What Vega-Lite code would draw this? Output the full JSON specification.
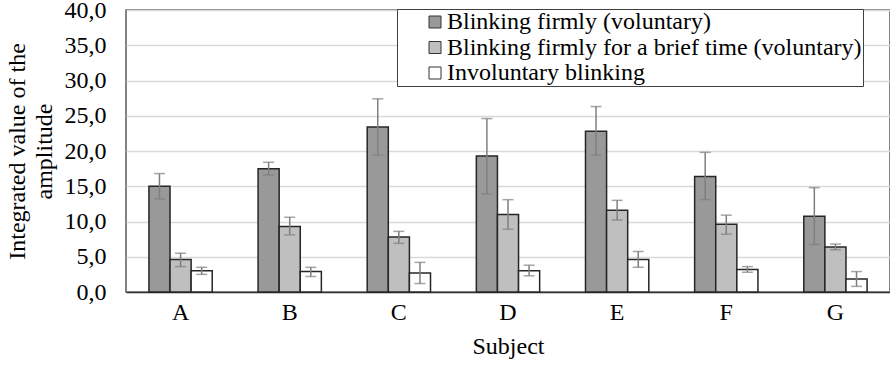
{
  "$schema": "https://vega.github.io/schema/vega-lite/v6.json",
  "autosize": {"type": "none"},
  "width": 764,
  "height": 282,
  "padding": {"left": 126, "top": 10, "right": 0, "bottom": 74},
  "background": "white",
  "config": {
    "font": "Liberation Serif",
    "view": {"stroke": "#595959", "strokeWidth": 1.5},
    "axis": {"labelFont": "Liberation Serif", "titleFont": "Liberation Serif", "labelColor": "#000", "titleColor": "#000", "titleFontWeight": "normal", "labelOverlap": false},
    "legend": {"labelFont": "Liberation Serif", "titleFont": "Liberation Serif"}
  },
  "data": {
    "values": [
      {"subject": "A", "series": "Blinking firmly (voluntary)", "value": 15.0, "lo": 13.2, "hi": 16.8},
      {"subject": "A", "series": "Blinking firmly for a brief time (voluntary)", "value": 4.6, "lo": 3.6, "hi": 5.5},
      {"subject": "A", "series": "Involuntary blinking", "value": 3.0, "lo": 2.5, "hi": 3.5},
      {"subject": "B", "series": "Blinking firmly (voluntary)", "value": 17.5, "lo": 16.6, "hi": 18.4},
      {"subject": "B", "series": "Blinking firmly for a brief time (voluntary)", "value": 9.3, "lo": 8.1, "hi": 10.6},
      {"subject": "B", "series": "Involuntary blinking", "value": 2.9, "lo": 2.2, "hi": 3.5},
      {"subject": "C", "series": "Blinking firmly (voluntary)", "value": 23.4, "lo": 19.4, "hi": 27.4},
      {"subject": "C", "series": "Blinking firmly for a brief time (voluntary)", "value": 7.8, "lo": 6.9, "hi": 8.6},
      {"subject": "C", "series": "Involuntary blinking", "value": 2.7, "lo": 1.2, "hi": 4.2},
      {"subject": "D", "series": "Blinking firmly (voluntary)", "value": 19.3, "lo": 13.9, "hi": 24.6},
      {"subject": "D", "series": "Blinking firmly for a brief time (voluntary)", "value": 11.0, "lo": 8.9, "hi": 13.1},
      {"subject": "D", "series": "Involuntary blinking", "value": 3.0, "lo": 2.3, "hi": 3.8},
      {"subject": "E", "series": "Blinking firmly (voluntary)", "value": 22.8, "lo": 19.4, "hi": 26.3},
      {"subject": "E", "series": "Blinking firmly for a brief time (voluntary)", "value": 11.6, "lo": 10.2, "hi": 13.0},
      {"subject": "E", "series": "Involuntary blinking", "value": 4.6, "lo": 3.5, "hi": 5.75},
      {"subject": "F", "series": "Blinking firmly (voluntary)", "value": 16.4, "lo": 13.1, "hi": 19.8},
      {"subject": "F", "series": "Blinking firmly for a brief time (voluntary)", "value": 9.6, "lo": 8.2, "hi": 10.9},
      {"subject": "F", "series": "Involuntary blinking", "value": 3.2, "lo": 2.8, "hi": 3.6},
      {"subject": "G", "series": "Blinking firmly (voluntary)", "value": 10.75, "lo": 6.75, "hi": 14.8},
      {"subject": "G", "series": "Blinking firmly for a brief time (voluntary)", "value": 6.4, "lo": 6.0, "hi": 6.8},
      {"subject": "G", "series": "Involuntary blinking", "value": 1.85, "lo": 0.8, "hi": 2.9}
    ]
  },
  "encoding": {
    "x": {
      "field": "subject", "type": "nominal",
      "scale": {"paddingInner": 0.42, "paddingOuter": 0.21},
      "axis": {
        "title": "Subject", "titleFontSize": 24, "titlePadding": 10,
        "labelFontSize": 24, "labelAngle": 0, "labelPadding": 8,
        "ticks": false, "domainColor": "#333333", "domainWidth": 1.5
      }
    },
    "xOffset": {
      "field": "series", "type": "nominal",
      "sort": ["Blinking firmly (voluntary)", "Blinking firmly for a brief time (voluntary)", "Involuntary blinking"],
      "scale": {"paddingInner": 0, "paddingOuter": 0}
    }
  },
  "layer": [
    {
      "mark": {"type": "bar", "stroke": "#262626", "strokeWidth": 1.5},
      "encoding": {
        "y": {
          "field": "value", "type": "quantitative",
          "scale": {"domain": [0, 40], "nice": false},
          "axis": {
            "title": ["Integrated value of the", "amplitude"],
            "titleFont": "Liberation Serif", "labelFont": "Liberation Serif",
            "titleFontSize": 24, "titleLineHeight": 27, "titlePadding": 8,
            "labelFontSize": 24, "labelPadding": 20, "ticks": false, "domain": false,
            "labelOverlap": false, "labelBound": false,
            "values": [0, 5, 10, 15, 20, 25, 30, 35, 40],
            "labelExpr": "replace(format(datum.value, '.1f'), '.', ',')",
            "gridColor": "#d9d9d9", "gridWidth": 1.5
          }
        },
        "fill": {
          "field": "series", "type": "nominal",
          "sort": ["Blinking firmly (voluntary)", "Blinking firmly for a brief time (voluntary)", "Involuntary blinking"],
          "scale": {
            "domain": ["Blinking firmly (voluntary)", "Blinking firmly for a brief time (voluntary)", "Involuntary blinking"],
            "range": ["#999999", "#bfbfbf", "#ffffff"]
          },
          "legend": {
            "title": null,
            "orient": "none", "legendX": 271, "legendY": -1,
            "direction": "vertical",
            "strokeColor": "#404040", "fillColor": "white",
            "padding": 1,
            "labelFont": "Liberation Serif",
            "labelFontSize": 24, "labelColor": "#000", "labelLimit": 0,
            "labelOffset": 0,
            "symbolType": "square", "symbolSize": 144,
            "symbolStrokeColor": "#333333", "symbolStrokeWidth": 1,
            "symbolOffset": 25,
            "rowPadding": 1.5
          }
        }
      }
    },
    {
      "mark": {"type": "rule", "color": "#7f7f7f", "strokeWidth": 1.5},
      "encoding": {
        "y": {
          "field": "lo", "type": "quantitative",
          "axis": {
            "title": ["Integrated value of the", "amplitude"],
            "titleFont": "Liberation Serif", "labelFont": "Liberation Serif",
            "titleFontSize": 24, "titleLineHeight": 27, "titlePadding": 8,
            "labelFontSize": 24, "labelPadding": 20, "ticks": false, "domain": false,
            "labelOverlap": false, "labelBound": false,
            "values": [0, 5, 10, 15, 20, 25, 30, 35, 40],
            "labelExpr": "replace(format(datum.value, '.1f'), '.', ',')",
            "gridColor": "#d9d9d9", "gridWidth": 1.5
          }
        },
        "y2": {"field": "hi"}
      }
    },
    {
      "mark": {"type": "tick", "color": "#7f7f7f", "thickness": 1.5, "size": 11, "orient": "horizontal"},
      "encoding": {
        "y": {
          "field": "lo", "type": "quantitative",
          "axis": {
            "title": ["Integrated value of the", "amplitude"],
            "titleFont": "Liberation Serif", "labelFont": "Liberation Serif",
            "titleFontSize": 24, "titleLineHeight": 27, "titlePadding": 8,
            "labelFontSize": 24, "labelPadding": 20, "ticks": false, "domain": false,
            "labelOverlap": false, "labelBound": false,
            "values": [0, 5, 10, 15, 20, 25, 30, 35, 40],
            "labelExpr": "replace(format(datum.value, '.1f'), '.', ',')",
            "gridColor": "#d9d9d9", "gridWidth": 1.5
          }
        }
      }
    },
    {
      "mark": {"type": "tick", "color": "#7f7f7f", "thickness": 1.5, "size": 11, "orient": "horizontal"},
      "encoding": {
        "y": {
          "field": "hi", "type": "quantitative",
          "axis": {
            "title": ["Integrated value of the", "amplitude"],
            "titleFont": "Liberation Serif", "labelFont": "Liberation Serif",
            "titleFontSize": 24, "titleLineHeight": 27, "titlePadding": 8,
            "labelFontSize": 24, "labelPadding": 20, "ticks": false, "domain": false,
            "labelOverlap": false, "labelBound": false,
            "values": [0, 5, 10, 15, 20, 25, 30, 35, 40],
            "labelExpr": "replace(format(datum.value, '.1f'), '.', ',')",
            "gridColor": "#d9d9d9", "gridWidth": 1.5
          }
        }
      }
    }
  ]
}
